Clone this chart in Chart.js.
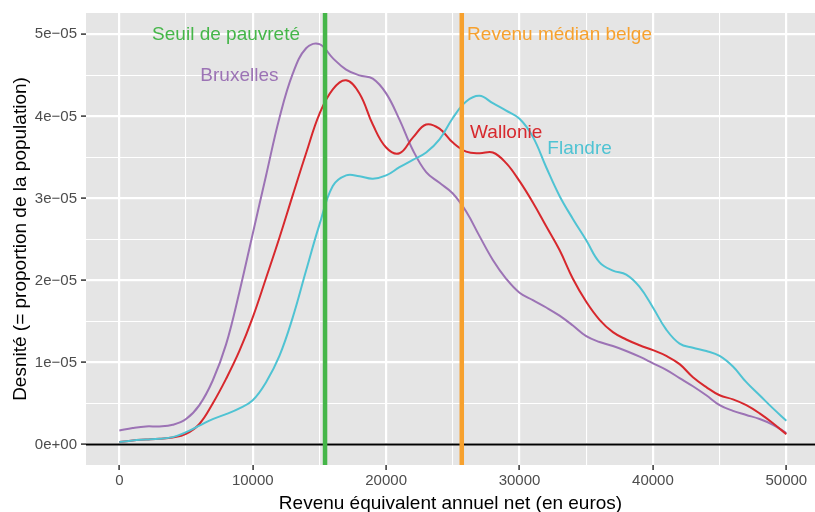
<!DOCTYPE html>
<html>
<head>
    <script src="https://cdn.jsdelivr.net/npm/chart.js@4.4.1/dist/chart.umd.min.js"></script>
    <style>
        body { margin: 0; background: #fff; font-family: "Liberation Sans", Arial, sans-serif; }
        .wrap { position: relative; width: 815px; height: 512px; }
    </style>
</head>
<body>
    <div class="wrap">
        <canvas id="densityChart"></canvas>
    </div>

    <script>
        // Revenu (euros) where the density curves were read
        const income = [0, 1000, 2000, 3000, 4000, 5000, 6000, 7000, 8000, 9000,
            10000, 11000, 12000, 13000, 14000, 15000, 16000, 17000, 18000, 19000,
            20000, 21000, 22000, 23000, 24000, 25000, 26000, 27000, 28000, 29000,
            30000, 31000, 32000, 33000, 34000, 35000, 36000, 37000, 38000, 39000,
            40000, 41000, 42000, 43000, 44000, 45000, 46000, 47000, 48000, 49000, 50000];

        // densities, in units of 1e-05
        const bruxelles = [0.17, 0.20, 0.22, 0.22, 0.24, 0.31, 0.48, 0.78, 1.22, 1.86,
            2.57, 3.28, 3.98, 4.52, 4.83, 4.88, 4.71, 4.57, 4.50, 4.46,
            4.28, 3.96, 3.59, 3.32, 3.19, 3.06, 2.84, 2.54, 2.25, 2.02,
            1.85, 1.76, 1.67, 1.57, 1.45, 1.32, 1.25, 1.20, 1.14, 1.07,
            0.99, 0.91, 0.81, 0.71, 0.60, 0.48, 0.41, 0.36, 0.31, 0.24, 0.14];
        const wallonie = [0.03, 0.05, 0.06, 0.07, 0.085, 0.13, 0.25, 0.50, 0.80, 1.14,
            1.55, 2.03, 2.52, 3.04, 3.55, 4.03, 4.33, 4.44, 4.28, 3.90,
            3.62, 3.55, 3.74, 3.90, 3.85, 3.68, 3.57, 3.55, 3.56, 3.43,
            3.21, 2.95, 2.66, 2.37, 2.02, 1.74, 1.52, 1.37, 1.28, 1.21,
            1.15, 1.08, 0.98, 0.82, 0.70, 0.60, 0.55, 0.48, 0.38, 0.26, 0.125];
        const flandre = [0.03, 0.05, 0.06, 0.07, 0.09, 0.15, 0.23, 0.31, 0.37, 0.44,
            0.54, 0.76, 1.08, 1.55, 2.12, 2.68, 3.15, 3.28, 3.27, 3.24,
            3.28, 3.38, 3.47, 3.56, 3.72, 3.98, 4.18, 4.25, 4.16, 4.07,
            3.97, 3.75, 3.38, 3.03, 2.75, 2.49, 2.22, 2.12, 2.07, 1.92,
            1.67, 1.40, 1.23, 1.18, 1.14, 1.08, 0.95, 0.76, 0.60, 0.44, 0.29];

        const seuilPauvrete = 15420;
        const revenuMedian = 25670;

        const xTicks = [0, 10000, 20000, 30000, 40000, 50000];
        const xMinor = [5000, 15000, 25000, 35000, 45000];
        const yTicks = [0, 1e-5, 2e-5, 3e-5, 4e-5, 5e-5];
        const yTickLabels = ['0e+00', '1e\u221205', '2e\u221205', '3e\u221205', '4e\u221205', '5e\u221205'];
        const yMinor = [0.5e-5, 1.5e-5, 2.5e-5, 3.5e-5, 4.5e-5];

        const X_MIN = -2500, X_MAX = 52150;
        const Y_MIN = -0.25e-5, Y_MAX = 5.26e-5;

        const COL = {
            bruxelles: '#9c73b5',
            wallonie: '#d7282d',
            flandre: '#4fc3d3',
            seuil: '#45b649',
            median: '#f7a12e'
        };

        const toPoints = arr => income.map((x, i) => ({ x: x, y: arr[i] * 1e-5 }));

        // labels written on the panel
        const notes = [
            { text: 'Seuil de pauvreté', x: 8000, y: 5.0e-5, color: COL.seuil },
            { text: 'Revenu médian belge', x: 33000, y: 5.0e-5, color: COL.median },
            { text: 'Bruxelles', x: 9000, y: 4.5e-5, color: COL.bruxelles },
            { text: 'Wallonie', x: 29000, y: 3.8e-5, color: COL.wallonie },
            { text: 'Flandre', x: 34500, y: 3.6e-5, color: COL.flandre }
        ];

        const panelBg = {
            id: 'panelBg',
            beforeDraw(chart) {
                const { ctx, chartArea: a } = chart;
                ctx.save();
                ctx.fillStyle = '#e5e5e5';
                ctx.fillRect(a.left, a.top, a.right - a.left, a.bottom - a.top);
                ctx.restore();
            }
        };

        const panelText = {
            id: 'panelText',
            afterDatasetsDraw(chart) {
                const { ctx, scales: { x, y } } = chart;
                ctx.save();
                ctx.font = '19px "Liberation Sans", Arial, sans-serif';
                ctx.textAlign = 'center';
                ctx.textBaseline = 'middle';
                notes.forEach(n => {
                    ctx.fillStyle = n.color;
                    ctx.fillText(n.text, x.getPixelForValue(n.x), y.getPixelForValue(n.y));
                });
                ctx.restore();
            }
        };

        const isMajorX = v => xTicks.includes(v);
        const isMajorY = v => yTicks.some(t => Math.abs(t - v) < 1e-9);

        const curve = (arr, color) => ({
            data: toPoints(arr),
            borderColor: color,
            borderWidth: 2,
            pointRadius: 0,
            tension: 0.4,
            fill: false
        });

        new Chart(document.getElementById('densityChart'), {
            type: 'line',
            data: {
                datasets: [
                    {
                        data: [{ x: seuilPauvrete, y: Y_MIN }, { x: seuilPauvrete, y: Y_MAX }],
                        borderColor: COL.seuil, borderWidth: 4.5, pointRadius: 0
                    },
                    {
                        data: [{ x: revenuMedian, y: Y_MIN }, { x: revenuMedian, y: Y_MAX }],
                        borderColor: COL.median, borderWidth: 4.5, pointRadius: 0
                    },
                    {
                        data: [{ x: X_MIN, y: 0 }, { x: X_MAX, y: 0 }],
                        borderColor: '#000', borderWidth: 2, pointRadius: 0
                    },
                    curve(flandre, COL.flandre),
                    curve(wallonie, COL.wallonie),
                    curve(bruxelles, COL.bruxelles)
                ]
            },
            options: {
                responsive: true,
                maintainAspectRatio: false,
                animation: false,
                layout: { padding: { top: 10, right: 0, left: 0, bottom: 0 } },
                plugins: {
                    legend: { display: false },
                    tooltip: { enabled: false }
                },
                scales: {
                    x: {
                        type: 'linear',
                        min: X_MIN,
                        max: X_MAX,
                        afterBuildTicks: s => { s.ticks = xTicks.concat(xMinor).sort((a, b) => a - b).map(v => ({ value: v })); },
                        afterFit: s => { s.height = 47; },
                        border: { display: false },
                        grid: {
                            color: '#ffffff',
                            lineWidth: c => isMajorX(c.tick.value) ? 2.2 : 1.1,
                            tickColor: c => isMajorX(c.tick.value) ? '#333333' : 'rgba(0,0,0,0)',
                            tickWidth: 1.5,
                            tickLength: 5
                        },
                        ticks: {
                            autoSkip: false,
                            maxRotation: 0,
                            padding: 2,
                            color: '#4d4d4d',
                            font: { size: 15 },
                            callback: v => isMajorX(v) ? String(v) : ''
                        },
                        title: {
                            display: true,
                            text: 'Revenu équivalent annuel net (en euros)',
                            color: '#000',
                            font: { size: 19 },
                            padding: { top: 0, bottom: -3 }
                        }
                    },
                    y: {
                        type: 'linear',
                        min: Y_MIN,
                        max: Y_MAX,
                        afterBuildTicks: s => { s.ticks = yTicks.concat(yMinor).sort((a, b) => a - b).map(v => ({ value: v })); },
                        afterFit: s => { s.width = 86; },
                        border: { display: false },
                        grid: {
                            color: '#ffffff',
                            lineWidth: c => isMajorY(c.tick.value) ? 2.2 : 1.1,
                            tickColor: c => isMajorY(c.tick.value) ? '#333333' : 'rgba(0,0,0,0)',
                            tickWidth: 1.5,
                            tickLength: 5
                        },
                        ticks: {
                            autoSkip: false,
                            padding: 4,
                            color: '#4d4d4d',
                            font: { size: 15 },
                            callback: v => {
                                const i = yTicks.findIndex(t => Math.abs(t - v) < 1e-9);
                                return i >= 0 ? yTickLabels[i] : '';
                            }
                        },
                        title: {
                            display: true,
                            text: 'Desnité (= proportion de la population)',
                            color: '#000',
                            font: { size: 19 },
                            padding: { top: 9, bottom: 0 }
                        }
                    }
                }
            },
            plugins: [panelBg, panelText]
        });
    </script>
</body>
</html>
